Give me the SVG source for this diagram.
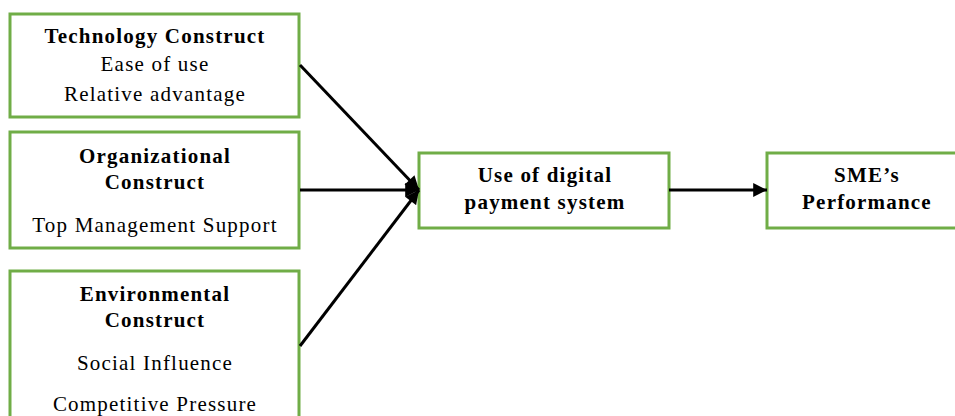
<svg xmlns="http://www.w3.org/2000/svg" width="955" height="416" viewBox="0 0 955 416">
<defs>
<style>
.box{fill:#fff;stroke:#70AD47;stroke-width:3}
.t{font-family:"Liberation Serif","Times New Roman",serif;font-size:21px;letter-spacing:1.2px;fill:#000;text-anchor:middle}
.b{font-weight:bold}
.c{stroke:#000;stroke-width:3;fill:none}
</style>
<marker id="ah" viewBox="0 0 10 10" refX="10" refY="5" markerWidth="5" markerHeight="4.6" orient="auto" markerUnits="strokeWidth">
<path d="M0,0 L10,5 L0,10 Z" fill="#000"/>
</marker>
</defs>
<rect width="955" height="416" fill="#fff"/>
<g id="tech">
<rect class="box" x="10" y="14" width="289" height="103"/>
<text class="t b" x="155" y="43">Technology Construct</text>
<text class="t" x="155" y="71">Ease of use</text>
<text class="t" x="155" y="101">Relative advantage</text>
</g>
<g id="org">
<rect class="box" x="10" y="132" width="289" height="116"/>
<text class="t b" x="155" y="163">Organizational</text>
<text class="t b" x="155" y="189">Construct</text>
<text class="t" x="155" y="232">Top Management Support</text>
</g>
<g id="env">
<rect class="box" x="10" y="271" width="289" height="160"/>
<text class="t b" x="155" y="301">Environmental</text>
<text class="t b" x="155" y="327">Construct</text>
<text class="t" x="155" y="370">Social Influence</text>
<text class="t" x="155" y="411">Competitive Pressure</text>
</g>
<g id="use">
<rect class="box" x="419" y="153" width="250" height="75"/>
<text class="t b" x="545" y="182">Use of digital</text>
<text class="t b" x="545" y="209">payment system</text>
</g>
<g id="sme">
<rect class="box" x="767" y="153" width="200" height="75"/>
<text class="t b" x="867" y="182">SME’s</text>
<text class="t b" x="867" y="209">Performance</text>
</g>
<g id="connectors">
<line class="c" x1="300" y1="65" x2="419" y2="190" marker-end="url(#ah)"/>
<line class="c" x1="300" y1="190" x2="419" y2="190" marker-end="url(#ah)"/>
<line class="c" x1="300" y1="346" x2="419" y2="190" marker-end="url(#ah)"/>
<line class="c" x1="669" y1="190" x2="767" y2="190" marker-end="url(#ah)"/>
</g>
</svg>
